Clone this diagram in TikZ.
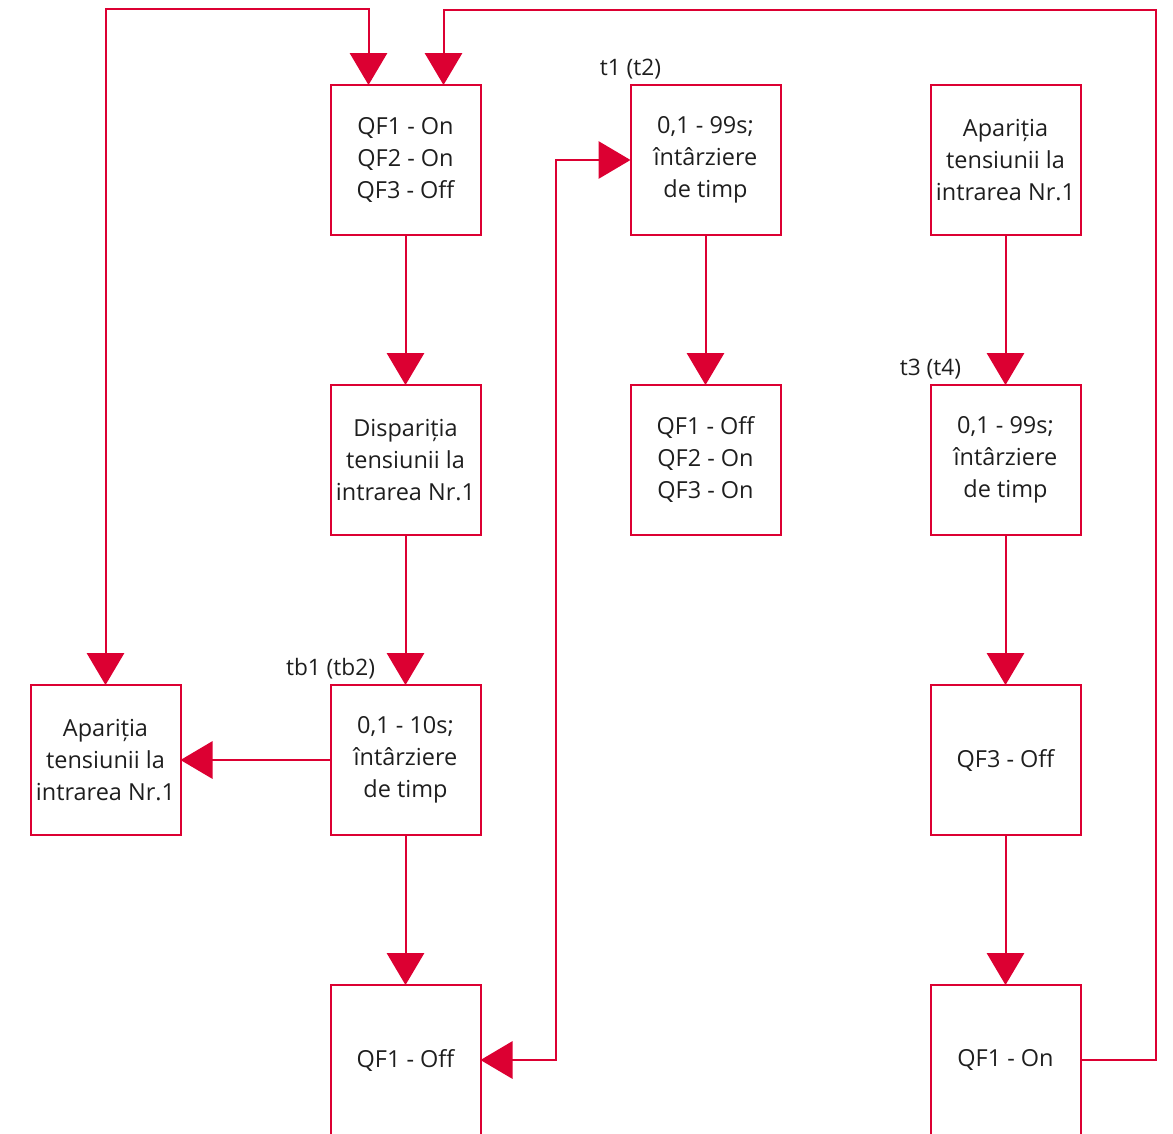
\documentclass[tikz,border=0pt]{standalone}
\usepackage{fontspec}
\setmainfont{Open Sans}
\usetikzlibrary{arrows.meta,positioning,calc}
\definecolor{schred}{HTML}{DC0032}
\definecolor{schtext}{HTML}{1E1E1E}

\begin{document}
\begin{tikzpicture}[x=0.75pt,y=-0.75pt,node distance=112.5pt,
  >={Triangle[length=24pt,width=28pt]},
  box/.style={draw=schred,line width=1.5pt,minimum width=112.5pt,minimum height=112.5pt,
    inner sep=0pt,outer sep=0pt,align=center,text=schtext,font=\fontsize{17.6}{24}\selectfont},
  flow/.style={draw=schred,line width=1.5pt,->},
  tag/.style={above,inner sep=4.5pt,text=schtext,font=\fontsize{17}{20}\selectfont}]
\useasboundingbox (0,0) rectangle (1173,1133);
% main chain
\node[box] (qfa) at (405.5,160) {QF1 - On\\QF2 - On\\QF3 - Off};
\node[box,below=of qfa] (disp) {Dispariția\\tensiunii la\\intrarea Nr.1};
\node[box,below=of disp] (dlyb) {0,1 - 10s;\\întârziere\\de timp};
\node[box,below=of dlyb] (qfoff) {QF1 - Off};
\node[box,left=of dlyb] (apar1) {Apariția\\tensiunii la\\intrarea Nr.1};
% transfer
\node[box,right=of qfa] (dly1) {0,1 - 99s;\\întârziere\\de timp};
\node[box,below=of dly1] (qfmix) {QF1 - Off\\QF2 - On\\QF3 - On};
% return
\node[box,right=of dly1] (apar2) {Apariția\\tensiunii la\\intrarea Nr.1};
\node[box,below=of apar2] (dly3) {0,1 - 99s;\\întârziere\\de timp};
\node[box,below=of dly3] (qf3off) {QF3 - Off};
\node[box,below=of qf3off] (qfon) {QF1 - On};
% timer labels
\node[tag] (tagb) at (dlyb.north west) {tb1 (tb2)};
\node[tag] (tag1) at (dly1.north west) {t1 (t2)};
\node[tag] (tag3) at (dly3.north west) {t3 (t4)};
\coordinate (inl) at ($(qfa.north)+(-37,0)$);
\coordinate (inr) at ($(qfa.north)+(38,0)$);
\draw[flow] (qfa) -- (disp);
\draw[flow] (disp) -- (dlyb);
\draw[flow] (dlyb) -- (apar1);
\draw[flow] (dlyb) -- (qfoff);
\draw[flow] (dly1) -- (qfmix);
\draw[flow] (apar2) -- (dly3);
\draw[flow] (dly3) -- (qf3off);
\draw[flow] (qf3off) -- (qfon);
\draw[flow,<->] (apar1.north) -- ++(0,-676) -| (inl);
\draw[flow,<->] (qfoff.east) -- ++(75,0) |- (dly1.west);
\draw[flow] (qfon.east) -- ++(75,0) |- ($(inr)+(0,-75)$) -- (inr);
\end{tikzpicture}
\end{document}
